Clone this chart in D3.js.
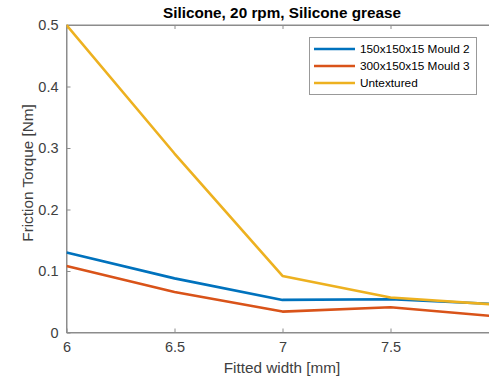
<!DOCTYPE html>
<html><head><meta charset="utf-8">
<script src="https://cdn.jsdelivr.net/npm/d3@7"></script>
<style>body{margin:0;background:#fff;overflow:hidden}svg{display:block}</style>
</head><body>
<svg id="c" width="489" height="377"></svg>
<script>
const widths = [6, 6.5, 7, 7.5, 8];
const mould2 = [0.130, 0.088, 0.053, 0.054, 0.046];
const mould3 = [0.108, 0.066, 0.034, 0.041, 0.026];
const untextured = [0.500, 0.291, 0.092, 0.057, 0.045];
const seriesNames = ["150x150x15 Mould 2", "300x150x15 Mould 3", "Untextured"];
const seriesColors = ["#0072BD", "#D95319", "#EDB120"];
const xTicks = [6, 6.5, 7, 7.5];
const yTicks = [0, 0.1, 0.2, 0.3, 0.4, 0.5];
const title = "Silicone, 20 rpm, Silicone grease";
const xLabel = "Fitted width [mm]";
const yLabel = "Friction Torque [Nm]";

const svg = d3.select("#c");
const L = 66.5, R = 498.5, T = 25, B = 332.5;
const x = d3.scaleLinear().domain([6, 8]).range([L, R]);
const y = d3.scaleLinear().domain([0, 0.5]).range([B, T]);
const axisCol = "#8c8c8c", textCol = "#404040";
const font = "Helvetica, Arial, 'Liberation Sans', sans-serif";

svg.append("rect").attr("x", L).attr("y", T).attr("width", R - L).attr("height", B - T)
  .attr("fill", "#fff").attr("stroke", axisCol).attr("stroke-width", 1);

const xa = svg.append("g").attr("transform", `translate(0,${B})`)
  .call(d3.axisBottom(x).tickValues(xTicks).tickSizeInner(-4).tickSizeOuter(0).tickPadding(8).tickFormat(d3.format("")));
const xt = svg.append("g").attr("transform", `translate(0,${T})`)
  .call(d3.axisTop(x).tickValues(xTicks).tickSizeInner(-4).tickSizeOuter(0).tickFormat(""));
const ya = svg.append("g").attr("transform", `translate(${L},0)`)
  .call(d3.axisLeft(y).tickValues(yTicks).tickSizeInner(-4).tickSizeOuter(0).tickPadding(8).tickFormat(d3.format("")));
[xa, xt, ya].forEach(g => {
  g.select(".domain").attr("stroke", axisCol);
  g.selectAll(".tick line").attr("stroke", axisCol);
  g.selectAll(".tick text").attr("fill", textCol).attr("font-size", 14.5).attr("font-family", font);
});
xa.selectAll(".tick text").attr("dy", "0.8em");

const seriesData = [mould2, mould3, untextured];
const line = d3.line().x((d, i) => x(widths[i])).y(d => y(d));
svg.append("clipPath").attr("id", "pc").append("rect")
  .attr("x", L).attr("y", T - 3).attr("width", R - L).attr("height", B - T + 3);
seriesData.forEach((s, k) => {
  svg.append("path").datum(s).attr("d", line).attr("fill", "none")
    .attr("stroke", seriesColors[k]).attr("stroke-width", 2.6)
    .attr("stroke-linejoin", "round").attr("clip-path", "url(#pc)");
});

svg.append("text").attr("x", 282).attr("y", 18).attr("text-anchor", "middle")
  .attr("font-weight", "bold").attr("font-size", 15.3).attr("font-family", font).attr("fill", "#000").text(title);
svg.append("text").attr("x", 282).attr("y", 373).attr("text-anchor", "middle")
  .attr("font-size", 15.3).attr("font-family", font).attr("fill", textCol).text(xLabel);
svg.append("text").attr("transform", `translate(33,173) rotate(-90)`).attr("text-anchor", "middle")
  .attr("font-size", 15.3).attr("font-family", font).attr("fill", textCol).text(yLabel);

const lg = svg.append("g");
lg.append("rect").attr("x", 309.5).attr("y", 37.5).attr("width", 167).attr("height", 57)
  .attr("fill", "#fff").attr("stroke", "#999").attr("stroke-width", 1);
seriesNames.forEach((n, k) => {
  const yy = 49 + k * 17;
  lg.append("line").attr("x1", 314).attr("x2", 355).attr("y1", yy).attr("y2", yy)
    .attr("stroke", seriesColors[k]).attr("stroke-width", 2.6);
  lg.append("text").attr("x", 360).attr("y", yy).attr("dy", "0.35em")
    .attr("font-size", 11.8).attr("font-family", font).attr("fill", "#000").text(n);
});
</script>
</body></html>
